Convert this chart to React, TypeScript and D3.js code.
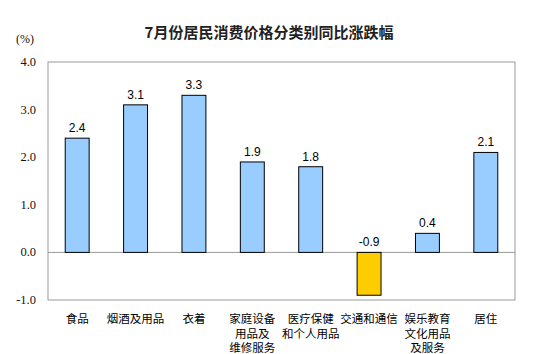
import React, { useEffect, useRef } from 'react'
import * as d3 from 'd3'

const categories = [
  ['食品'],
  ['烟酒及用品'],
  ['衣着'],
  ['家庭设备', '用品及', '维修服务'],
  ['医疗保健', '和个人用品'],
  ['交通和通信'],
  ['娱乐教育', '文化用品', '及服务'],
  ['居住']
]
const values = [2.4, 3.1, 3.3, 1.9, 1.8, -0.9, 0.4, 2.1]
const yTicks = [-1, 0, 1, 2, 3, 4]

const W = 536
const H = 354
const left = 48
const right = 515
const top = 62
const bottom = 300

export default function App() {
  const ref = useRef<SVGSVGElement | null>(null)

  useEffect(() => {
    document.body.style.margin = '0'
    document.body.style.overflow = 'hidden'

    const svg = d3.select(ref.current)
    svg.selectAll('*').remove()

    const x = d3
      .scaleBand<number>()
      .domain(d3.range(values.length))
      .range([left, right])
      .paddingInner(0.59)
      .paddingOuter(0.295)
    const y = d3.scaleLinear().domain([-1, 4]).range([bottom, top])

    svg.append('rect').attr('width', W).attr('height', H).attr('fill', '#fff')

    // title
    svg
      .append('text')
      .attr('x', 269)
      .attr('y', 38)
      .attr('text-anchor', 'middle')
      .attr('font-family', '"Noto Sans CJK SC", sans-serif')
      .attr('font-size', 15)
      .attr('font-weight', 'bold')
      .attr('fill', '#222')
      .text('7月份居民消费价格分类别同比涨跌幅')

    svg
      .append('text')
      .attr('x', 16)
      .attr('y', 43)
      .attr('font-family', '"Liberation Serif", serif')
      .attr('font-size', 12)
      .attr('fill', '#111')
      .text('(%)')

    // plot frame
    svg
      .append('rect')
      .attr('x', left)
      .attr('y', top)
      .attr('width', right - left)
      .attr('height', bottom - top)
      .attr('fill', 'none')
      .attr('stroke', '#999')

    // y tick labels
    svg
      .selectAll('text.ytick')
      .data(yTicks)
      .enter()
      .append('text')
      .attr('class', 'ytick')
      .attr('x', 36)
      .attr('y', d => y(d) + 4)
      .attr('text-anchor', 'end')
      .attr('font-family', '"Liberation Serif", serif')
      .attr('font-size', 12.5)
      .attr('fill', '#111')
      .text(d => d.toFixed(1))

    // zero line
    svg
      .append('line')
      .attr('x1', left)
      .attr('x2', right)
      .attr('y1', y(0))
      .attr('y2', y(0))
      .attr('stroke', '#999')

    // bars
    svg
      .selectAll('rect.bar')
      .data(values)
      .enter()
      .append('rect')
      .attr('class', 'bar')
      .attr('x', (d, i) => x(i) as number)
      .attr('width', x.bandwidth())
      .attr('y', d => y(Math.max(0, d)))
      .attr('height', d => Math.abs(y(d) - y(0)))
      .attr('fill', d => (d < 0 ? '#FFCC00' : '#99CCFF'))
      .attr('stroke', '#000')
      .attr('stroke-width', 1)

    // value labels
    svg
      .selectAll('text.val')
      .data(values)
      .enter()
      .append('text')
      .attr('class', 'val')
      .attr('x', (d, i) => (x(i) as number) + x.bandwidth() / 2)
      .attr('y', d => (d < 0 ? y(0) - 6 : y(d) - 6))
      .attr('text-anchor', 'middle')
      .attr('font-family', '"Liberation Sans", Arial, sans-serif')
      .attr('font-size', 12)
      .attr('fill', '#000')
      .text(d => d.toFixed(1))

    // category labels, one text per line
    categories.forEach((lines, i) => {
      lines.forEach((s, j) => {
        svg
          .append('text')
          .attr('x', (x(i) as number) + x.bandwidth() / 2)
          .attr('y', 323 + j * 14.5)
          .attr('text-anchor', 'middle')
          .attr('font-family', '"Liberation Sans", "Noto Sans CJK SC", sans-serif')
          .attr('font-size', 11.5)
          .attr('fill', '#000')
          .text(s)
      })
    })
  }, [])

  return (
    <svg
      ref={ref}
      width={W}
      height={H}
      style={{ display: 'block', position: 'absolute', left: 0, top: 0 }}
    />
  )
}
